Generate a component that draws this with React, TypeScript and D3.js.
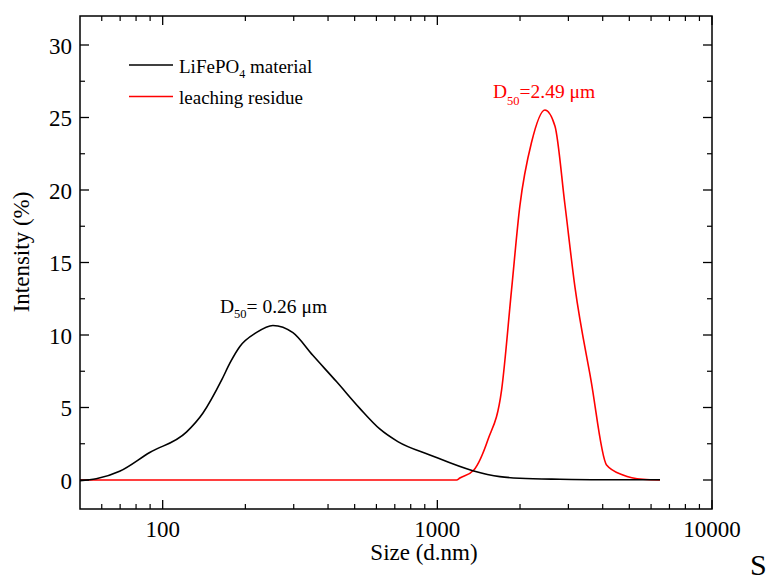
import React from "react";
import * as d3 from "d3";

const blackSizes = [50, 57.3, 69.7, 89.7, 122, 140, 164, 176, 191, 219, 252, 298, 352, 430, 522, 617, 718, 939, 1346, 1689, 1997, 2792, 3906, 6466];
const blackValues = [-0.05, 0.08, 0.6, 1.9, 3.3, 4.6, 6.9, 8.09, 9.21, 10.16, 10.66, 10.16, 8.6, 6.77, 4.94, 3.52, 2.65, 1.73, 0.64, 0.23, 0.12, 0.05, 0.02, 0.02];

const redSizes = [50, 1175, 1208, 1358, 1527, 1714, 1863, 1997, 2203, 2464, 2680, 2914, 3170, 3624, 4131, 4741, 5606, 6466];
const redValues = [0, 0, 0.14, 0.69, 2.76, 6.22, 13.13, 18.89, 23.29, 25.52, 24.42, 19.0, 13.3, 6.91, 1.04, 0.35, 0.05, 0];

const xMajorTicks = [100, 1000, 10000];
const yMajorTicks = [0, 5, 10, 15, 20, 25, 30];
const legendLabels = ["LiFePO", "leaching residue"];

const FONT = "'Liberation Serif', 'Times New Roman', serif";

export default function App() {
  const W = 769, H = 576;
  const L = 80, R = 712, T = 16, B = 509;
  const x = d3.scaleLog().domain([50, 10000]).range([L, R]);
  const y = d3.scaleLinear().domain([-2, 32]).range([B, T]);

  const minorX: number[] = [];
  [10, 100, 1000].forEach((dec) => {
    for (let m = 2; m <= 9; m++) {
      const v = dec * m;
      if (v > 50 && v < 10000) minorX.push(v);
    }
  });
  const minorY = d3.range(2.5, 32, 5);

  const line = d3
    .line<[number, number]>()
    .x((d) => x(d[0]))
    .y((d) => y(d[1]))
    .curve(d3.curveMonotoneX);

  const blackData = blackSizes.map((s, i) => [s, blackValues[i]] as [number, number]);
  const redData = redSizes.map((s, i) => [s, redValues[i]] as [number, number]);

  const majLen = 9, minLen = 5;

  return (
    <svg width={W} height={H} style={{ position: "fixed", left: 0, top: 0, background: "#fff" }} fontFamily={FONT}>
      <rect x={0} y={0} width={W} height={H} fill="#fff" />
      {/* curves */}
      <path d={line(redData) || ""} fill="none" stroke="#ff0000" strokeWidth={1.6} />
      <path d={line(blackData) || ""} fill="none" stroke="#000" strokeWidth={1.6} />

      {/* frame */}
      <rect x={L} y={T} width={R - L} height={B - T} fill="none" stroke="#000" strokeWidth={1.5} />

      {/* x ticks */}
      {xMajorTicks.map((v) => (
        <g key={"xm" + v}>
          <line x1={x(v)} x2={x(v)} y1={B} y2={B - majLen} stroke="#000" strokeWidth={1.3} />
          <line x1={x(v)} x2={x(v)} y1={T} y2={T + majLen} stroke="#000" strokeWidth={1.3} />
          <text x={x(v)} y={B + 28} textAnchor="middle" fontSize={23}>{v}</text>
        </g>
      ))}
      {minorX.map((v) => (
        <g key={"xn" + v}>
          <line x1={x(v)} x2={x(v)} y1={B} y2={B - minLen} stroke="#000" strokeWidth={1.2} />
          <line x1={x(v)} x2={x(v)} y1={T} y2={T + minLen} stroke="#000" strokeWidth={1.2} />
        </g>
      ))}

      {/* y ticks */}
      {yMajorTicks.map((v) => (
        <g key={"ym" + v}>
          <line x1={L} x2={L + majLen} y1={y(v)} y2={y(v)} stroke="#000" strokeWidth={1.3} />
          <line x1={R} x2={R - majLen} y1={y(v)} y2={y(v)} stroke="#000" strokeWidth={1.3} />
          <text x={L - 8} y={y(v) + 8.5} textAnchor="end" fontSize={23}>{v}</text>
        </g>
      ))}
      {minorY.map((v) => (
        <g key={"yn" + v}>
          <line x1={L} x2={L + minLen} y1={y(v)} y2={y(v)} stroke="#000" strokeWidth={1.2} />
          <line x1={R} x2={R - minLen} y1={y(v)} y2={y(v)} stroke="#000" strokeWidth={1.2} />
        </g>
      ))}

      {/* axis titles */}
      <text x={424} y={560} textAnchor="middle" fontSize={23}>Size (d.nm)</text>
      <text transform="translate(29,252) rotate(-90)" textAnchor="middle" fontSize={23}>Intensity (%)</text>
      <text x={750} y={575} fontSize={30}>S</text>

      {/* legend */}
      <line x1={129} x2={173} y1={65} y2={65} stroke="#000" strokeWidth={1.6} />
      <text x={179} y={73} fontSize={19}>
        {legendLabels[0]}
        <tspan fontSize={12} dy={5}>4</tspan>
        <tspan dy={-5}> material</tspan>
      </text>
      <line x1={129} x2={173} y1={96.5} y2={96.5} stroke="#ff0000" strokeWidth={1.6} />
      <text x={179} y={104} fontSize={19}>{legendLabels[1]}</text>

      {/* annotations */}
      <text x={220} y={313} fontSize={19.5}>
        D<tspan fontSize={12.5} dy={5}>50</tspan>
        <tspan dy={-5}>= 0.26 μm</tspan>
      </text>
      <text x={493} y={98} fontSize={19.5} fill="#ff0000">
        D<tspan fontSize={12.5} dy={7}>50</tspan>
        <tspan dy={-7}>=2.49 μm</tspan>
      </text>
    </svg>
  );
}
